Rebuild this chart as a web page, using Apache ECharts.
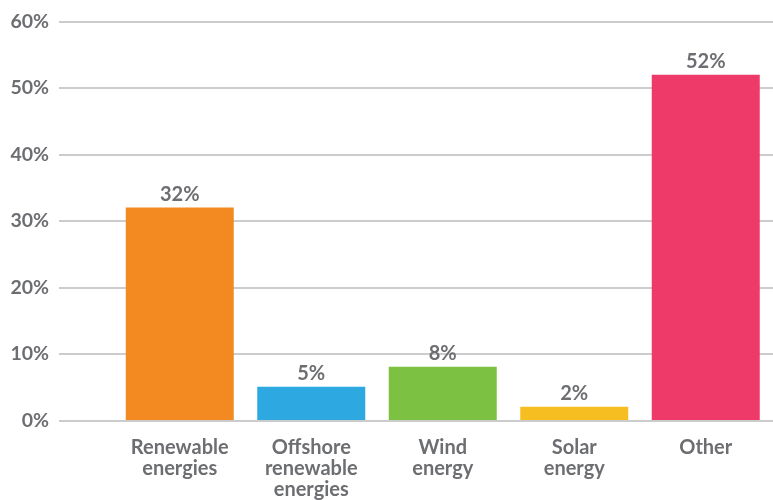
<!DOCTYPE html>
<html>
<head>
<meta charset="utf-8">
<script src="https://cdn.jsdelivr.net/npm/echarts@6/dist/echarts.min.js"></script>
<style>
html,body{margin:0;padding:0;background:#fff;}
#chart{width:773px;height:500px;}
</style>
</head>
<body>
<div id="chart"></div>
<script>
const categories = ['Renewable\nenergies', 'Offshore\nrenewable\nenergies', 'Wind\nenergy', 'Solar\nenergy', 'Other'];
const values = [32, 5, 8, 2, 52];
const yTicks = [0, 10, 20, 30, 40, 50, 60];
const palette = ['#F28A21', '#2EA8E0', '#7DC142', '#F7BE22', '#EE3A68'];

const textColor = '#6d6e71';
const font = 'Lato, "Open Sans", sans-serif';

const chart = echarts.init(document.getElementById('chart'));
chart.setOption({
  animation: false,
  grid: [
    { left: 59, right: 0, top: 21.5, height: 399 },
    { left: 114, right: 1.5, top: 21.5, height: 399 }
  ],
  xAxis: [
    { type: 'category', gridIndex: 0, data: categories, show: false },
    {
      type: 'category', gridIndex: 1, data: categories,
      axisLine: { show: false }, axisTick: { show: false },
      axisLabel: {
        color: textColor, fontFamily: font, fontWeight: 'bold', fontSize: 20,
        lineHeight: 21, margin: 17, interval: 0
      }
    }
  ],
  yAxis: [
    {
      type: 'value', gridIndex: 0,
      min: yTicks[0], max: yTicks[yTicks.length - 1], interval: yTicks[1] - yTicks[0],
      axisLine: { show: false }, axisTick: { show: false },
      axisLabel: {
        formatter: '{value}%', color: textColor, fontFamily: font,
        fontWeight: 'bold', fontSize: 19.5, margin: 10
      },
      splitLine: { lineStyle: { color: '#cccccc', width: 2 } }
    },
    {
      type: 'value', gridIndex: 1,
      min: yTicks[0], max: yTicks[yTicks.length - 1], show: false
    }
  ],
  series: [{
    type: 'bar',
    xAxisIndex: 1, yAxisIndex: 1,
    barWidth: 108,
    data: values.map((v, i) => ({ value: v, itemStyle: { color: palette[i] } })),
    label: {
      show: true, position: 'top', formatter: '{c}%', distance: 3,
      color: textColor, fontFamily: font, fontWeight: 'bold', fontSize: 20
    }
  }]
});
</script>
</body>
</html>
